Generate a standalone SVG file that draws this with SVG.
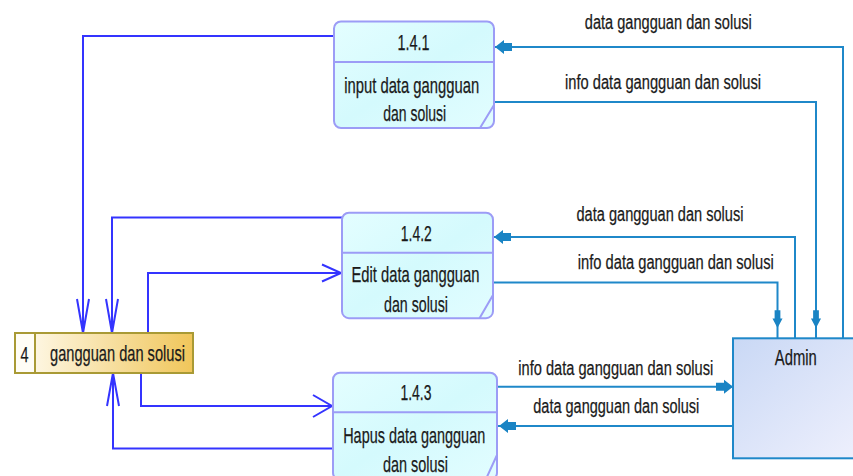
<svg xmlns="http://www.w3.org/2000/svg" width="853" height="476" viewBox="0 0 853 476">
  <defs>
    <linearGradient id="procFill" x1="0" y1="0" x2="1" y2="1">
      <stop offset="0" stop-color="#e4feff"/>
      <stop offset="0.5" stop-color="#d4fafd"/>
      <stop offset="1" stop-color="#e2fdff"/>
    </linearGradient>
    <linearGradient id="storeFill" x1="0" y1="0" x2="1" y2="0">
      <stop offset="0" stop-color="#fffcf2"/>
      <stop offset="1" stop-color="#f0c65a"/>
    </linearGradient>
    <linearGradient id="extFill" x1="0" y1="0" x2="1" y2="1">
      <stop offset="0" stop-color="#c9d8f5"/>
      <stop offset="1" stop-color="#f0f1fd"/>
    </linearGradient>
    <!-- solid flow arrowhead, pointing right with its tip at the origin -->
    <path id="flowHead" d="M0,0 L-9,-7 L-9,-4 L-17,-4 L-17,4 L-9,4 L-9,7 Z"/>
  </defs>
  <style>
    .proc { fill: url(#procFill); stroke: #9c9cf6; stroke-width: 2; }
    .procLine { fill: none; stroke: #9c9cf6; stroke-width: 2; }
    .store { fill: url(#storeFill); stroke: #a99a35; stroke-width: 2; }
    .ext { fill: url(#extFill); stroke: #1f88c9; stroke-width: 2; }
    .txt { font-family: "Liberation Sans", Arial, sans-serif; fill: #1a1a1a; text-anchor: middle; stroke: #1a1a1a; stroke-width: 0.25; }
    .node { font-size: 22.5px; }
    .lbl { font-size: 20px; }
    .blue { fill: none; stroke: #3434ff; stroke-width: 2; }
    .teal { fill: none; stroke: #1f88c9; stroke-width: 2; }
    .head { fill: #1a84c4; }
  </style>

  <!-- connectors -->
  <g id="connectors">
    <!-- data store links -->
    <path class="blue" d="M334,36 H83 V333"/>
    <path class="blue" d="M77,299 L83,333 L89,299"/>
    <path class="blue" d="M342,217.5 H112 V333"/>
    <path class="blue" d="M106,299 L112,333 L118,299"/>
    <path class="blue" d="M148,333 V273 H341"/>
    <path class="blue" d="M322,264.5 L341,273 L322,281.5"/>
    <path class="blue" d="M141,373 V406 H332"/>
    <path class="blue" d="M313,395 L332,406 L313,417"/>
    <path class="blue" d="M333,448.5 H113 V373"/>
    <path class="blue" d="M107,406 L113,373 L119,406"/>

    <!-- Admin flows -->
    <path class="teal" d="M843,338 V47 H494"/>
    <use href="#flowHead" class="head" transform="translate(495,47) rotate(180)"/>
    <path class="teal" d="M494,102 H816 V338"/>
    <use href="#flowHead" class="head" transform="translate(816,328) rotate(90) scale(1.05,0.72)"/>
    <path class="teal" d="M795,338 V237 H493"/>
    <use href="#flowHead" class="head" transform="translate(494,237) rotate(180)"/>
    <path class="teal" d="M493,282.5 H777.5 V338"/>
    <use href="#flowHead" class="head" transform="translate(777.5,328) rotate(90) scale(1.05,0.72)"/>
    <path class="teal" d="M497,386.7 H733"/>
    <use href="#flowHead" class="head" transform="translate(733,386.7)"/>
    <path class="teal" d="M733,426 H497"/>
    <use href="#flowHead" class="head" transform="translate(499,426) rotate(180)"/>

    <text class="txt lbl" x="668.3" y="29.3" textLength="167" lengthAdjust="spacingAndGlyphs">data gangguan dan solusi</text>
    <text class="txt lbl" x="663" y="89.3" textLength="196" lengthAdjust="spacingAndGlyphs">info data gangguan dan solusi</text>
    <text class="txt lbl" x="660" y="220.7" textLength="167" lengthAdjust="spacingAndGlyphs">data gangguan dan solusi</text>
    <text class="txt lbl" x="675.8" y="269.3" textLength="196" lengthAdjust="spacingAndGlyphs">info data gangguan dan solusi</text>
    <text class="txt lbl" x="615.8" y="375" textLength="195" lengthAdjust="spacingAndGlyphs">info data gangguan dan solusi</text>
    <text class="txt lbl" x="616.3" y="413.3" textLength="166" lengthAdjust="spacingAndGlyphs">data gangguan dan solusi</text>
  </g>

  <!-- process 1.4.1 -->
  <g id="p141">
    <rect class="proc" x="334" y="21.5" width="160" height="106.5" rx="7"/>
    <path class="procLine" d="M334,62 H494 M480,128 L494,105"/>
    <text class="txt node" x="413.5" y="50" textLength="32" lengthAdjust="spacingAndGlyphs">1.4.1</text>
    <text class="txt node" x="411.7" y="93" textLength="135" lengthAdjust="spacingAndGlyphs">input data gangguan</text>
    <text class="txt node" x="414.7" y="120.5" textLength="63" lengthAdjust="spacingAndGlyphs">dan solusi</text>
  </g>

  <!-- process 1.4.2 -->
  <g id="p142">
    <rect class="proc" x="342" y="212.7" width="151" height="105.5" rx="7"/>
    <path class="procLine" d="M342,252.7 H493 M479.5,318.2 L493,295"/>
    <text class="txt node" x="416.3" y="240.5" textLength="31" lengthAdjust="spacingAndGlyphs">1.4.2</text>
    <text class="txt node" x="415.5" y="281.7" textLength="128" lengthAdjust="spacingAndGlyphs">Edit data gangguan</text>
    <text class="txt node" x="416" y="312" textLength="64" lengthAdjust="spacingAndGlyphs">dan solusi</text>
  </g>

  <!-- process 1.4.3 -->
  <g id="p143">
    <rect class="proc" x="333" y="372.7" width="164" height="107" rx="7"/>
    <path class="procLine" d="M333,412.3 H497 M486,479 L497,455"/>
    <text class="txt node" x="416" y="399.5" textLength="31" lengthAdjust="spacingAndGlyphs">1.4.3</text>
    <text class="txt node" x="414.2" y="443.3" textLength="142" lengthAdjust="spacingAndGlyphs">Hapus data gangguan</text>
    <text class="txt node" x="415.5" y="472" textLength="65" lengthAdjust="spacingAndGlyphs">dan solusi</text>
  </g>

  <!-- data store 4 -->
  <g id="store4">
    <rect class="store" x="15" y="333" width="178" height="40"/>
    <rect x="16" y="334" width="19" height="38" fill="#fffdf6"/>
    <line x1="35" y1="333" x2="35" y2="373" stroke="#a99a35" stroke-width="2"/>
    <text class="txt node" x="24.5" y="361.5" textLength="8" lengthAdjust="spacingAndGlyphs">4</text>
    <text class="txt node" x="117.5" y="361" textLength="135" lengthAdjust="spacingAndGlyphs">gangguan dan solusi</text>
  </g>

  <!-- external entity Admin -->
  <g id="admin">
    <rect class="ext" x="733" y="338.3" width="140" height="120"/>
    <text class="txt node" x="795.8" y="365" textLength="42" lengthAdjust="spacingAndGlyphs">Admin</text>
  </g>
</svg>
